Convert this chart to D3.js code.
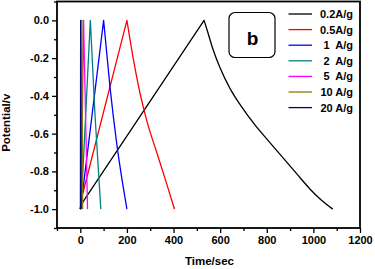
<!DOCTYPE html>
<html><head><meta charset="utf-8">
<script src="https://cdn.jsdelivr.net/npm/d3@7"></script>
<style>
html,body{margin:0;padding:0;background:#fff;}
svg{display:block;}
text{font-family:"Liberation Sans",Arial,sans-serif;font-weight:bold;fill:#000;}
</style></head>
<body>
<script>
// ---- data ----
const seriesNames = ["0.2A/g", "0.5A/g", "1  A/g", "2  A/g", "5  A/g", "10 A/g", "20 A/g"];
const seriesColors = ["#000000", "#ff0000", "#0000ff", "#008080", "#ff00ff", "#808000", "#000080"];
// time (s) and potential (V) per current density
const t02 = [0, 12, 531, 545, 571, 599, 642, 685, 750, 807, 857, 928, 985, 1035, 1083];
const v02 = [-1.0, -0.96, 0, -0.055, -0.16, -0.25, -0.36, -0.445, -0.555, -0.638, -0.71, -0.812, -0.893, -0.953, -1.0];
const t05 = [0, 10, 200, 228, 257, 286, 328, 364, 404];
const v05 = [-1.0, -0.92, 0, -0.208, -0.39, -0.535, -0.70, -0.84, -1.0];
const t1 = [0, 8, 100, 128, 157, 200];
const v1 = [-1.0, -0.93, 0, -0.36, -0.66, -1.0];
const t2 = [0, 5, 43, 63, 88];
const v2 = [-1.0, -0.95, 0, -0.5, -1.0];
const t5 = [2, 4, 14, 31];
const v5 = [-1.0, -0.97, 0, -1.0];
const t10 = [1, 3, 7, 10];
const v10 = [-1.0, -0.98, 0, -1.0];
const t20 = [0, 0.5, 1.5, 3];
const v20 = [-1.0, -0.99, 0, -1.0];
const seriesT = [t02, t05, t1, t2, t5, t10, t20];
const seriesV = [v02, v05, v1, v2, v5, v10, v20];
const xTicks = [0, 200, 400, 600, 800, 1000, 1200];
const yTicks = [0.0, -0.2, -0.4, -0.6, -0.8, -1.0];
const xMinor = [-100, 100, 300, 500, 700, 900, 1100];
const yMinor = [0.1, -0.1, -0.3, -0.5, -0.7, -0.9, -1.1];
const xLabel = "Time/sec";
const yLabel = "Potential/v";
const panelLabel = "b";

// ---- drawing ----
const W = 375, H = 269;
const L = 57, R = 360, T = 1.5, B = 228;
const svg = d3.select("body").append("svg").attr("width", W).attr("height", H);
const x = d3.scaleLinear().domain([-100, 1200]).range([L, R]);
const y = d3.scaleLinear().domain([-1.1, 0.1]).range([B, T]);

svg.append("defs").append("clipPath").attr("id", "clip")
  .append("rect").attr("x", L).attr("y", T).attr("width", R - L).attr("height", B - T);

const lineLin = d3.line().x(d => x(d[0])).y(d => y(d[1]));
const lineCurve = d3.line().x(d => x(d[0])).y(d => y(d[1])).curve(d3.curveMonotoneX);
const g = svg.append("g").attr("clip-path", "url(#clip)");
seriesT.forEach((ts, i) => {
  const pts = ts.map((t, k) => [t, seriesV[i][k]]);
  const peak = d3.maxIndex(pts, p => p[1]);
  const charge = pts.slice(0, peak + 1);
  const discharge = pts.slice(peak);
  const d = lineLin(charge) + lineCurve(discharge).replace(/^M[^LC]*/, "L" + x(discharge[0][0]) + "," + y(discharge[0][1]));
  g.append("path").attr("d", d).attr("fill", "none")
    .attr("stroke", seriesColors[i]).attr("stroke-width", 1.3).attr("stroke-linejoin", "round");
});

// axes
const fmtY = d => d3.format(".1f")(d).replace("−", "-");
const xAxis = d3.axisBottom(x).tickValues(xTicks).tickSize(5).tickFormat(d3.format("d"));
const yAxis = d3.axisLeft(y).tickValues(yTicks).tickSize(5).tickFormat(fmtY);
const gx = svg.append("g").attr("transform", `translate(0,${B})`).call(xAxis);
const gy = svg.append("g").attr("transform", `translate(${L},0)`).call(yAxis);
[gx, gy].forEach(a => {
  a.select(".domain").remove();
  a.selectAll(".tick line").attr("stroke", "#000").attr("stroke-width", 1.3);
  a.selectAll("text").style("font-size", "11px").style("font-family", "'Liberation Sans',Arial,sans-serif").style("font-weight", "bold").attr("fill", "#000");
});
gx.selectAll("text").attr("dy", "0.71em").attr("y", 8);
gy.selectAll("text").attr("x", -8);
svg.append("g").attr("transform", `translate(0,${B})`)
  .call(d3.axisBottom(x).tickValues(xMinor).tickSize(3).tickFormat(""))
  .call(a => { a.select(".domain").remove(); a.selectAll("line").attr("stroke-width", 1.3); });
svg.append("g").attr("transform", `translate(${L},0)`)
  .call(d3.axisLeft(y).tickValues(yMinor).tickSize(3).tickFormat(""))
  .call(a => { a.select(".domain").remove(); a.selectAll("line").attr("stroke-width", 1.3); });

// frame
svg.append("rect").attr("x", L).attr("y", T).attr("width", R - L).attr("height", B - T)
  .attr("fill", "none").attr("stroke", "#000").attr("stroke-width", 1.8);

// axis labels
svg.append("text").attr("x", (L + R) / 2 + 1).attr("y", 265).attr("text-anchor", "middle")
  .style("font-size", "11.5px").text(xLabel);
svg.append("text").attr("transform", `translate(10,${(T + B) / 2 + 8}) rotate(-90)`)
  .attr("text-anchor", "middle").style("font-size", "11.5px").text(yLabel);

// panel label box
svg.append("rect").attr("x", 229).attr("y", 12.5).attr("width", 46).attr("height", 45)
  .attr("rx", 6).attr("fill", "#fff").attr("stroke", "#000").attr("stroke-width", 1.2);
svg.append("text").attr("x", 252.5).attr("y", 44.5).attr("text-anchor", "middle")
  .style("font-size", "19px").text(panelLabel);

// legend
const leg = svg.append("g");
seriesNames.forEach((name, i) => {
  const yy = 14 + i * 15.6;
  leg.append("line").attr("x1", 288.5).attr("x2", 312).attr("y1", yy).attr("y2", yy)
    .attr("stroke", seriesColors[i]).attr("stroke-width", 1.3);
  leg.append("text").attr("x", 353).attr("y", yy + 4).attr("text-anchor", "end")
    .style("font-size", "11px").style("white-space", "pre").text(name);
});
</script>
</body></html>
